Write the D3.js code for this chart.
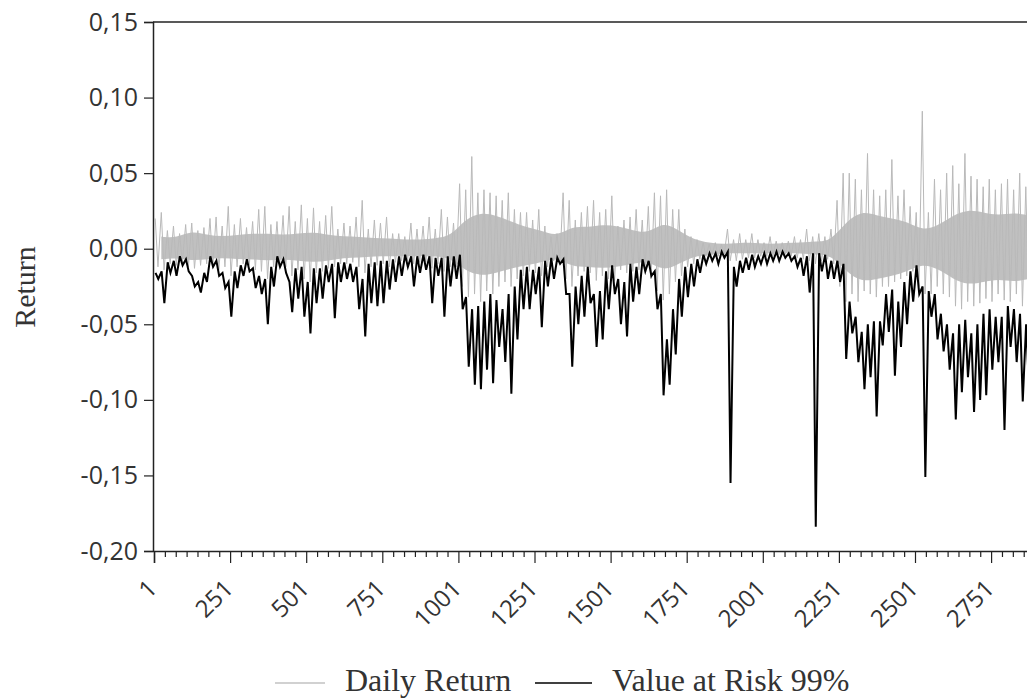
<!DOCTYPE html>
<html lang="en">
<head>
<meta charset="UTF-8">
<title>Daily Return and Value at Risk 99%</title>
<script src="https://d3js.org/d3.v7.min.js"></script>
<style>
  body { margin: 0; background: #fff; }
  svg { display: block; }
</style>
</head>
<body>
<script>
// tick labels
const xTickValues = [1, 251, 501, 751, 1001, 1251, 1501, 1751, 2001, 2251, 2501, 2751];
const yTickValues = [0.15, 0.10, 0.05, 0.00, -0.05, -0.10, -0.15, -0.20];

// Value at Risk 99%, read per block of 20 observations (upper / lower swing)
const binSize = 20;
const varUpper = [
  -0.016, -0.015, -0.009, -0.008, -0.005, -0.007, -0.018, -0.022, -0.016, -0.005,
  -0.008, -0.016, -0.022, -0.015, -0.011, -0.007, -0.013, -0.018, -0.020, -0.012,
  -0.005, -0.007, -0.022, -0.013, -0.012, -0.022, -0.013, -0.013, -0.011, -0.010,
  -0.009, -0.009, -0.010, -0.012, -0.020, -0.010, -0.009, -0.008, -0.008, -0.007,
  -0.005, -0.004, -0.005, -0.005, -0.004, -0.005, -0.006, -0.006, -0.005, -0.005,
  -0.004, -0.032, -0.040, -0.038, -0.035, -0.030, -0.034, -0.040, -0.030, -0.025,
  -0.014, -0.012, -0.014, -0.012, -0.008, -0.006, -0.006, -0.007, -0.030, -0.025,
  -0.018, -0.012, -0.030, -0.028, -0.015, -0.011, -0.020, -0.022, -0.010, -0.012,
  -0.007, -0.008, -0.015, -0.030, -0.060, -0.040, -0.020, -0.012, -0.010, -0.007,
  -0.004, -0.003, -0.003, -0.002, -0.002, -0.012, -0.008, -0.006, -0.004, -0.005,
  -0.003, -0.003, -0.002, -0.002, -0.003, -0.005, -0.006, -0.005, -0.003, -0.003,
  -0.004, -0.008, -0.008, -0.010, -0.035, -0.045, -0.055, -0.050, -0.048, -0.048,
  -0.030, -0.027, -0.035, -0.022, -0.015, -0.011, -0.025, -0.028, -0.030, -0.043,
  -0.050, -0.056, -0.050, -0.047, -0.056, -0.050, -0.043, -0.040, -0.045, -0.045,
  -0.038, -0.040, -0.043, -0.050
];
const varLower = [
  -0.020, -0.036, -0.016, -0.018, -0.011, -0.015, -0.025, -0.029, -0.022, -0.012,
  -0.018, -0.026, -0.045, -0.026, -0.018, -0.015, -0.026, -0.030, -0.050, -0.025,
  -0.012, -0.016, -0.042, -0.033, -0.045, -0.056, -0.036, -0.033, -0.022, -0.046,
  -0.022, -0.020, -0.022, -0.040, -0.058, -0.036, -0.038, -0.036, -0.027, -0.022,
  -0.018, -0.012, -0.025, -0.016, -0.014, -0.036, -0.018, -0.045, -0.025, -0.020,
  -0.040, -0.078, -0.090, -0.093, -0.080, -0.089, -0.065, -0.075, -0.096, -0.060,
  -0.040, -0.040, -0.030, -0.052, -0.025, -0.020, -0.010, -0.030, -0.078, -0.050,
  -0.045, -0.036, -0.065, -0.060, -0.040, -0.030, -0.050, -0.058, -0.035, -0.030,
  -0.015, -0.018, -0.040, -0.097, -0.090, -0.070, -0.045, -0.032, -0.025, -0.016,
  -0.010, -0.008, -0.010, -0.006, -0.155, -0.025, -0.016, -0.014, -0.012, -0.010,
  -0.010, -0.008, -0.008, -0.006, -0.008, -0.012, -0.018, -0.029, -0.184, -0.015,
  -0.020, -0.020, -0.022, -0.073, -0.056, -0.075, -0.093, -0.085, -0.111, -0.064,
  -0.055, -0.084, -0.065, -0.050, -0.035, -0.030, -0.151, -0.045, -0.060, -0.068,
  -0.080, -0.113, -0.095, -0.085, -0.108, -0.100, -0.097, -0.080, -0.075, -0.120,
  -0.065, -0.075, -0.101, -0.090
];

// Daily return, highest / lowest value per block of 20 observations
const retMax = [
  0.020, 0.024, 0.012, 0.015, 0.010, 0.016, 0.017, 0.012, 0.014, 0.020,
  0.021, 0.015, 0.028, 0.016, 0.020, 0.014, 0.018, 0.026, 0.028, 0.016,
  0.018, 0.022, 0.028, 0.018, 0.029, 0.020, 0.027, 0.018, 0.022, 0.028,
  0.013, 0.017, 0.015, 0.021, 0.032, 0.013, 0.019, 0.017, 0.021, 0.010,
  0.010, 0.008, 0.017, 0.013, 0.015, 0.021, 0.013, 0.026, 0.021, 0.017,
  0.043, 0.039, 0.061, 0.037, 0.039, 0.037, 0.035, 0.032, 0.037, 0.026,
  0.024, 0.024, 0.019, 0.026, 0.015, 0.008, 0.010, 0.037, 0.032, 0.019,
  0.024, 0.028, 0.032, 0.024, 0.026, 0.035, 0.015, 0.019, 0.021, 0.026,
  0.019, 0.028, 0.037, 0.035, 0.039, 0.026, 0.026, 0.013, 0.008, 0.006,
  0.004, 0.003, 0.004, 0.003, 0.013, 0.006, 0.010, 0.006, 0.010, 0.006,
  0.004, 0.008, 0.005, 0.004, 0.005, 0.008, 0.006, 0.013, 0.008, 0.010,
  0.008, 0.013, 0.032, 0.050, 0.050, 0.046, 0.039, 0.063, 0.039, 0.035,
  0.039, 0.059, 0.035, 0.039, 0.028, 0.024, 0.091, 0.024, 0.046, 0.039,
  0.050, 0.055, 0.043, 0.063, 0.048, 0.046, 0.041, 0.046, 0.039, 0.043,
  0.046, 0.039, 0.050, 0.041
];
const retMin = [
  -0.012, -0.014, -0.010, -0.011, -0.009, -0.012, -0.013, -0.011, -0.010, -0.012,
  -0.014, -0.012, -0.018, -0.012, -0.010, -0.011, -0.014, -0.015, -0.020, -0.012,
  -0.010, -0.012, -0.018, -0.014, -0.020, -0.022, -0.016, -0.015, -0.013, -0.012,
  -0.010, -0.010, -0.009, -0.012, -0.016, -0.012, -0.011, -0.010, -0.012, -0.009,
  -0.008, -0.008, -0.010, -0.009, -0.009, -0.013, -0.010, -0.015, -0.012, -0.012,
  -0.025, -0.032, -0.030, -0.035, -0.028, -0.030, -0.025, -0.022, -0.025, -0.020,
  -0.018, -0.015, -0.016, -0.018, -0.012, -0.008, -0.009, -0.020, -0.025, -0.018,
  -0.015, -0.016, -0.021, -0.018, -0.020, -0.021, -0.014, -0.016, -0.015, -0.014,
  -0.015, -0.020, -0.028, -0.034, -0.030, -0.022, -0.018, -0.012, -0.010, -0.007,
  -0.005, -0.004, -0.005, -0.004, -0.008, -0.008, -0.007, -0.006, -0.006, -0.005,
  -0.005, -0.005, -0.004, -0.004, -0.005, -0.006, -0.007, -0.008, -0.010, -0.008,
  -0.007, -0.010, -0.025, -0.035, -0.030, -0.035, -0.028, -0.030, -0.032, -0.025,
  -0.025, -0.022, -0.020, -0.018, -0.015, -0.025, -0.030, -0.030, -0.025, -0.030,
  -0.032, -0.038, -0.040, -0.035, -0.038, -0.036, -0.033, -0.035, -0.030, -0.034,
  -0.035, -0.030, -0.038, -0.032
];

// dense core of the daily return band, per block of 50 observations
const coreSize = 50;
const coreHigh = [
  0.008, 0.007, 0.012, 0.009, 0.008, 0.009, 0.010, 0.010, 0.009, 0.010,
  0.011, 0.009, 0.008, 0.008, 0.007, 0.007, 0.006, 0.006, 0.007, 0.008,
  0.020, 0.024, 0.022, 0.018, 0.014, 0.012, 0.008, 0.015, 0.014, 0.016,
  0.015, 0.012, 0.010, 0.018, 0.012, 0.006, 0.004, 0.003, 0.004, 0.004,
  0.003, 0.004, 0.004, 0.005, 0.005, 0.018, 0.025, 0.022, 0.020, 0.018,
  0.012, 0.015, 0.022, 0.026, 0.024, 0.022, 0.024, 0.022
];
const coreLow = [
  -0.007, -0.006, -0.008, -0.007, -0.006, -0.007, -0.007, -0.008, -0.007, -0.008,
  -0.009, -0.008, -0.006, -0.006, -0.005, -0.005, -0.005, -0.005, -0.005, -0.006,
  -0.015, -0.018, -0.016, -0.013, -0.011, -0.009, -0.006, -0.012, -0.012, -0.013,
  -0.012, -0.010, -0.008, -0.015, -0.010, -0.005, -0.004, -0.003, -0.003, -0.003,
  -0.003, -0.003, -0.003, -0.004, -0.004, -0.015, -0.022, -0.020, -0.018, -0.015,
  -0.010, -0.013, -0.020, -0.024, -0.022, -0.020, -0.022, -0.020
];

const width = 1027, height = 699;
const plot = { left: 153, top: 22, bottom: 551, right: 1040 };

const svg = d3.select("body").append("svg")
  .attr("width", width)
  .attr("height", height);

const x = d3.scaleLinear().domain([1, 2901]).range([154, 154 + 2900 * 0.3044]);
const y = d3.scaleLinear().domain([-0.20, 0.15]).range([plot.bottom, plot.top]);

svg.append("clipPath").attr("id", "clip")
  .append("rect")
  .attr("x", plot.left + 1).attr("y", plot.top)
  .attr("width", plot.right - plot.left).attr("height", plot.bottom - plot.top);

const g = svg.append("g").attr("clip-path", "url(#clip)");

// return band core
const corePts = coreHigh.map((h, i) => ({ obs: i * coreSize + coreSize / 2, hi: h, lo: coreLow[i] }));
g.append("path")
  .datum(corePts)
  .attr("fill", "#c0c0c0")
  .attr("d", d3.area()
    .x(d => x(d.obs))
    .y0(d => y(d.lo))
    .y1(d => y(d.hi))
    .curve(d3.curveBasis));

// return spikes
const retPts = retMax.flatMap((m, i) => [
  { obs: i * binSize + 5, v: m },
  { obs: i * binSize + 14, v: retMin[i] }
]);
g.append("path")
  .datum(retPts)
  .attr("fill", "none")
  .attr("stroke", "#b9b9b9")
  .attr("stroke-width", 1)
  .attr("d", d3.line().x(d => x(d.obs)).y(d => y(d.v)));

// value at risk
const varPts = varUpper.flatMap((u, i) => [
  { obs: i * binSize + 6, v: u },
  { obs: i * binSize + 15, v: varLower[i] }
]);
g.append("path")
  .datum(varPts)
  .attr("fill", "none")
  .attr("stroke", "#000")
  .attr("stroke-width", 2)
  .attr("stroke-linejoin", "miter")
  .attr("d", d3.line().x(d => x(d.obs)).y(d => y(d.v)));

// frame: top line, left axis, bottom axis
svg.append("line")
  .attr("x1", plot.left).attr("x2", width)
  .attr("y1", plot.top).attr("y2", plot.top)
  .attr("stroke", "#222").attr("stroke-width", 1.5);

const fmt = v => d3.format(".2f")(v).replace(".", ",").replace("\u2212", "-");

const yAxis = svg.append("g")
  .attr("transform", `translate(${plot.left},0)`)
  .call(d3.axisLeft(y).tickValues(yTickValues).tickSize(9).tickPadding(6).tickFormat(fmt));
yAxis.select(".domain").attr("stroke", "#222").attr("stroke-width", 1.5);
yAxis.selectAll(".tick line").attr("stroke", "#222").attr("stroke-width", 1.2);
yAxis.selectAll("text")
  .attr("font-family", "'Open Sans', sans-serif")
  .attr("font-size", 25)
  .attr("fill", "#333");

// minor ticks: seven intervals between labelled ticks
const minorTicks = d3.range(1, 2900, 250 / 7).filter((v, i) => i % 7 !== 0);
const xMinor = svg.append("g")
  .attr("transform", `translate(0,${plot.bottom})`)
  .call(d3.axisBottom(x).tickValues(minorTicks).tickSize(6).tickFormat(""));
xMinor.select(".domain").remove();
xMinor.selectAll(".tick line").attr("stroke", "#222").attr("stroke-width", 1.2);

const xAxis = svg.append("g")
  .attr("transform", `translate(0,${plot.bottom})`)
  .call(d3.axisBottom(x).tickValues(xTickValues).tickSize(12).tickFormat(d3.format("d")));
xAxis.select(".domain").attr("stroke", "#222").attr("stroke-width", 1.5);
xAxis.selectAll(".tick line").attr("stroke", "#222").attr("stroke-width", 1.2);
xAxis.selectAll("text")
  .attr("font-family", "'Open Sans', sans-serif")
  .attr("font-size", 24)
  .attr("fill", "#333")
  .attr("text-anchor", "end")
  .attr("y", 0)
  .attr("dy", 0)
  .attr("transform", "translate(4,39) rotate(-45)");

// y axis title
svg.append("text")
  .attr("transform", "translate(35,287) rotate(-90)")
  .attr("text-anchor", "middle")
  .attr("font-family", "'Liberation Serif', 'Times New Roman', serif")
  .attr("font-size", 30)
  .attr("fill", "#333")
  .text("Return");

// legend
const legend = svg.append("g").attr("font-family", "'Liberation Serif', 'Times New Roman', serif")
  .attr("font-size", 32).attr("fill", "#333");
legend.append("line").attr("x1", 275).attr("x2", 325).attr("y1", 683).attr("y2", 683)
  .attr("stroke", "#c2c2c2").attr("stroke-width", 1.5);
legend.append("text").attr("x", 345).attr("y", 691).text("Daily Return");
legend.append("line").attr("x1", 535).attr("x2", 592).attr("y1", 683).attr("y2", 683)
  .attr("stroke", "#000").attr("stroke-width", 1.5);
legend.append("text").attr("x", 612).attr("y", 691).text("Value at Risk 99%");
</script>
</body>
</html>
